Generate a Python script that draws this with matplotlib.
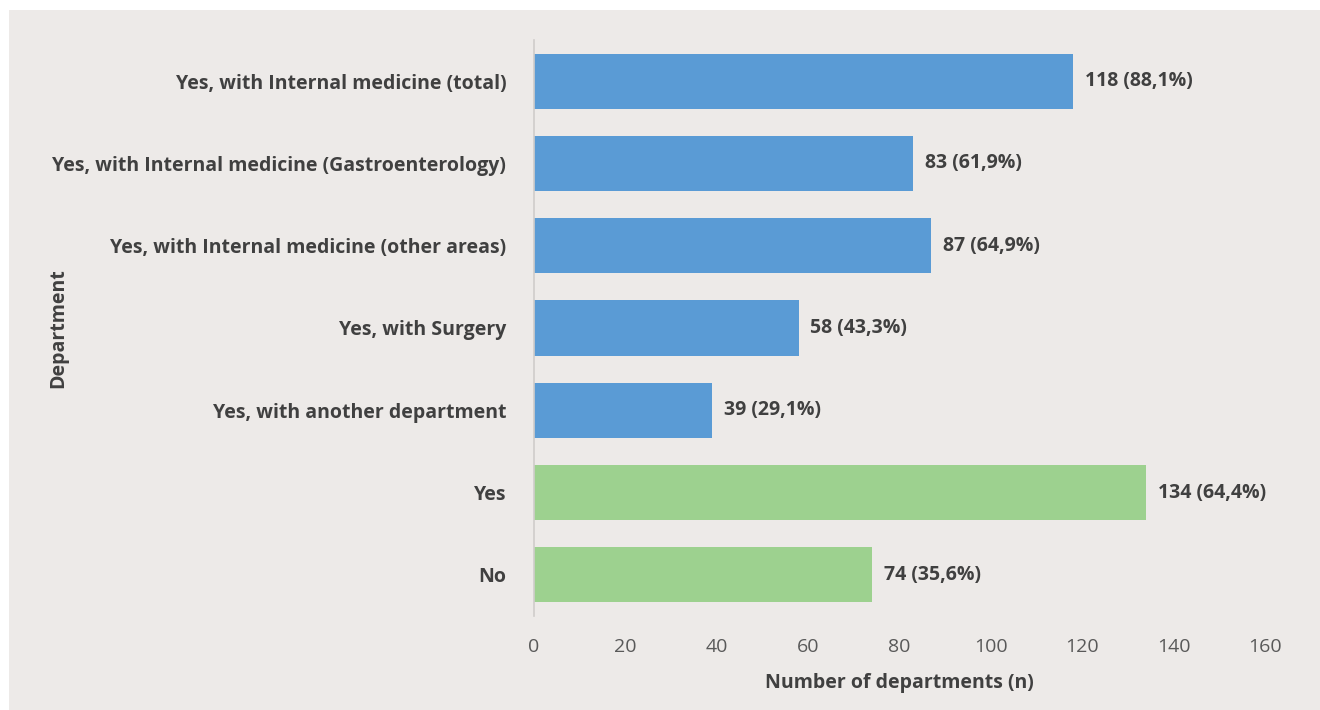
import matplotlib.pyplot as plt
from matplotlib.patches import Rectangle

# data (top to bottom as shown)
categories = ['Yes, with Internal medicine (total)',
              'Yes, with Internal medicine (Gastroenterology)',
              'Yes, with Internal medicine (other areas)',
              'Yes, with Surgery',
              'Yes, with another department',
              'Yes',
              'No']
counts = [118, 83, 87, 58, 39, 134, 74]
pct_labels = ['88,1%', '61,9%', '64,9%', '43,3%', '29,1%', '64,4%', '35,6%']
groups = ['sub', 'sub', 'sub', 'sub', 'sub', 'main', 'main']
xticks = [0, 20, 40, 60, 80, 100, 120, 140, 160]

bg = '#edeae8'
txt = '#404040'
colors = {'sub': '#5a9bd5', 'main': '#9dd18f'}

plt.rcParams['font.family'] = ['Open Sans', 'DejaVu Sans']

fig = plt.figure(figsize=(13.2, 7.1), dpi=100)
fig.patch.set_facecolor('white')
# grey panel, leaving a thin white strip on the left and top
fig.patches.append(Rectangle((9 / 1320, 0), 1, 1 - 10 / 710, transform=fig.transFigure,
                             facecolor=bg, edgecolor='none', zorder=-10))

ax = fig.add_axes([534 / 1320, 1 - 616 / 710, (1265 - 534) / 1320, (616 - 40) / 710])
ax.patch.set_alpha(0)

ypos = list(range(len(categories) - 1, -1, -1))
bars = ax.barh(ypos, counts, height=0.67, color=[colors[g] for g in groups])

for y, c, p in zip(ypos, counts, pct_labels):
    ax.text(c + 2.5, y, f'{c} ({p})', va='center', ha='left', fontsize=14,
            fontweight='bold', color=txt)

ax.set_yticks(ypos)
ax.set_yticklabels(categories, fontsize=14, fontweight='bold', color=txt)
ax.set_xticks(xticks)
ax.set_xticklabels([str(t) for t in xticks], fontsize=14, color='#595959')
ax.set_xlim(0, 160)
ax.set_ylim(-0.5, 6.5)

for s in ['top', 'right', 'bottom']:
    ax.spines[s].set_visible(False)
ax.spines['left'].set_color('#d0cdcb')
ax.spines['left'].set_linewidth(1.2)
ax.tick_params(axis='both', length=0)
ax.tick_params(axis='y', pad=20)
ax.tick_params(axis='x', pad=16)

ax.set_xlabel('Number of departments (n)', fontsize=14, fontweight='bold',
              color=txt, labelpad=12)
fig.text(58 / 1320, 1 - 328 / 710, 'Department', rotation=90, fontsize=14,
         fontweight='bold', color=txt, ha='center', va='center')

fig.savefig('out.png', dpi=100, facecolor=fig.get_facecolor())
